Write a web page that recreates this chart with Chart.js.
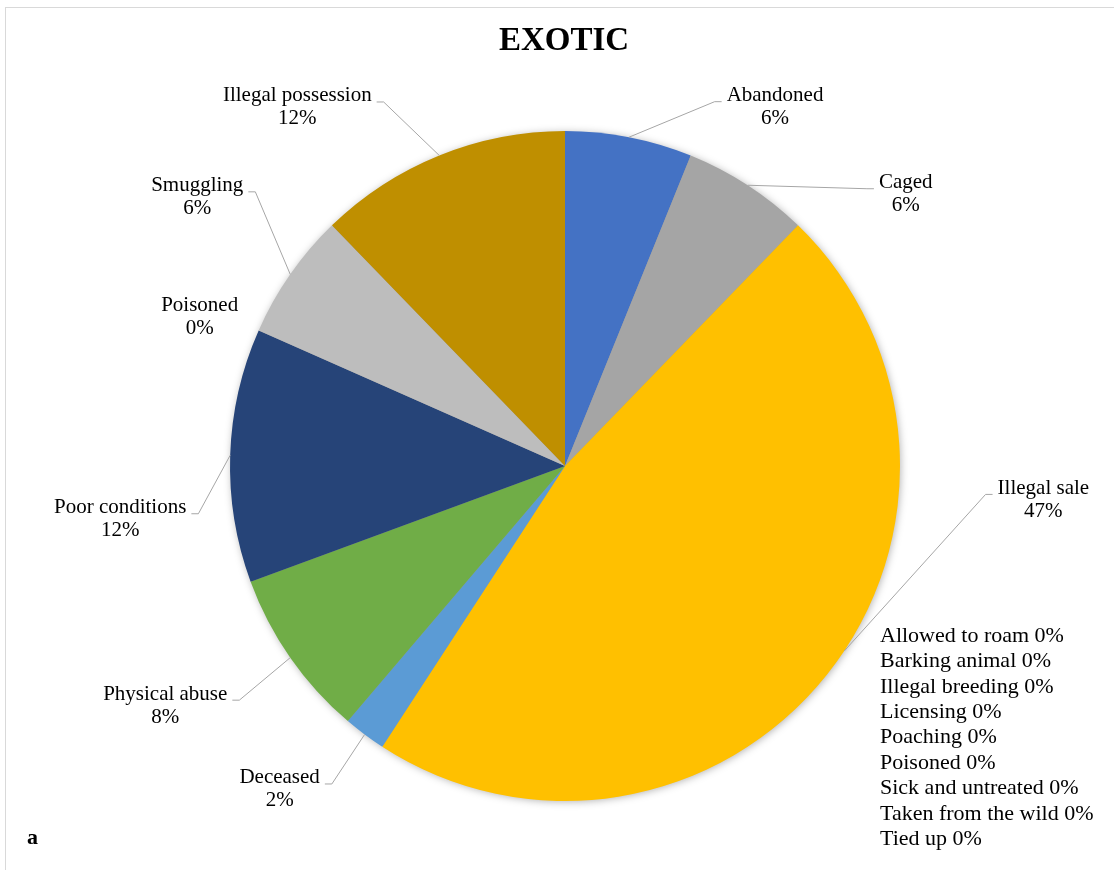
<!DOCTYPE html>
<html>
<head>
<meta charset="utf-8">
<script src="https://cdn.jsdelivr.net/npm/chart.js@4"></script>
<style>
  html, body { margin: 0; padding: 0; background: #fff; overflow: hidden; }
  #wrap { position: relative; width: 1114px; height: 870px; }
  #frame { position: absolute; left: 5px; top: 7px; right: -10px; bottom: -10px; border-left: 1px solid #d9d9d9; border-top: 1px solid #d9d9d9; }
  canvas { position: absolute; left: 0; top: 0; }
</style>
</head>
<body>
<div id="wrap">
  <div id="frame"></div>
  <canvas id="exoticChart" width="1114" height="870"></canvas>
</div>
<script>
// --- Data ---
const sliceLabels = ['Abandoned', 'Caged', 'Illegal sale', 'Deceased', 'Physical abuse', 'Poor conditions', 'Poisoned', 'Smuggling', 'Illegal possession'];
const sliceCounts = [3, 3, 23, 1, 4, 6, 0, 3, 6];
const sliceColors = ['#4472C4', '#A5A5A5', '#FFC000', '#5B9BD5', '#70AD47', '#264478', '#9E480E', '#BDBDBD', '#BF8F00'];

const zeroLabels = ['Allowed to roam', 'Barking animal', 'Illegal breeding', 'Licensing', 'Poaching', 'Poisoned', 'Sick and untreated', 'Taken from the wild', 'Tied up'];
const zeroCounts = [0, 0, 0, 0, 0, 0, 0, 0, 0];

// label placement relative to the leader anchor on the slice edge:
// [dx, dy, draw leader?, anchor position along the arc (0..1)]
const labelOffsets = [
    [146, -30, true, 0.5], [158, 9, true, 0.5], [199, -151, true, 0.47], [-85, 55, true, 0.5], [-125, 48, true, 0.5],
    [-110, 64, true, 0.5], [-59, -13, false, 0.5], [-93, -77, true, 0.5], [-142, -48, true, 0.5]
];

const total = sliceCounts.concat(zeroCounts).reduce((a, b) => a + b, 0);
const pct = v => Math.round(v / total * 100) + '%';

const LABEL_FONT = '21px "Liberation Serif", "Times New Roman", serif';
const LIST_FONT = '22px "Liberation Serif", "Times New Roman", serif';

// soft shadow behind the pie
const pieShadow = {
    id: 'pieShadow',
    beforeDatasetsDraw(chart) {
        const arc = chart.getDatasetMeta(0).data[0];
        if (!arc) return;
        const { x, y, outerRadius } = arc.getProps(['x', 'y', 'outerRadius'], true);
        const ctx = chart.ctx;
        ctx.save();
        ctx.shadowColor = 'rgba(0,0,0,0.35)';
        ctx.shadowBlur = 9;
        ctx.shadowOffsetX = 1;
        ctx.shadowOffsetY = 1;
        ctx.fillStyle = '#999';
        ctx.beginPath();
        ctx.arc(x, y, outerRadius - 1, 0, Math.PI * 2);
        ctx.fill();
        ctx.restore();
    }
};

// data labels with leader lines + list of zero categories
const pieLabels = {
    id: 'pieLabels',
    afterDraw(chart) {
        const ctx = chart.ctx;
        const meta = chart.getDatasetMeta(0);
        ctx.save();
        ctx.font = LABEL_FONT;
        ctx.fillStyle = '#000';
        ctx.textAlign = 'center';
        ctx.textBaseline = 'middle';
        const lh = 23;

        meta.data.forEach((arc, i) => {
            if (i >= sliceLabels.length) return;
            const p = arc.getProps(['x', 'y', 'startAngle', 'endAngle', 'outerRadius'], true);
            const [dx, dy, showLine, frac] = labelOffsets[i];
            const ang = p.startAngle + (p.endAngle - p.startAngle) * frac;
            const ax = p.x + Math.cos(ang) * p.outerRadius;
            const ay = p.y + Math.sin(ang) * p.outerRadius;
            const lx = ax + dx, ly = ay + dy;
            const line1 = sliceLabels[i];
            const y1 = ly - lh / 2;
            ctx.fillText(line1, lx, y1);
            ctx.fillText(pct(sliceCounts[i]), lx, ly + lh / 2);

            if (showLine) {
                const w = ctx.measureText(line1).width;
                const right = lx > ax;
                const endX = right ? lx - w / 2 - 5 : lx + w / 2 + 5;
                const endY = y1 + 6;
                const elbowX = right ? endX - 7 : endX + 7;
                ctx.beginPath();
                ctx.strokeStyle = '#A6A6A6';
                ctx.lineWidth = 1;
                ctx.moveTo(ax, ay);
                ctx.lineTo(elbowX, endY);
                ctx.lineTo(endX, endY);
                ctx.stroke();
            }
        });

        // zero-valued categories stacked at the bottom right
        ctx.font = LIST_FONT;
        ctx.textAlign = 'left';
        zeroLabels.forEach((name, i) => {
            ctx.fillText(name + ' ' + pct(zeroCounts[i]), 880, 636 + i * 25.4);
        });

        // panel letter
        ctx.font = 'bold 22px "Liberation Serif", "Times New Roman", serif';
        ctx.fillText('a', 27, 838);
        ctx.restore();
    }
};

const ctx = document.getElementById('exoticChart');
new Chart(ctx, {
    type: 'pie',
    data: {
        labels: sliceLabels.concat(zeroLabels),
        datasets: [{
            data: sliceCounts.concat(zeroCounts),
            backgroundColor: sliceColors.concat(zeroLabels.map(() => '#cccccc')),
            borderWidth: 0
        }]
    },
    options: {
        responsive: false,
        animation: false,
        devicePixelRatio: 1,
        layout: { padding: { top: 131, bottom: 69, left: 16, right: 0 } },
        plugins: {
            legend: { display: false },
            tooltip: { enabled: false },
            title: { display: false }
        }
    },
    plugins: [pieShadow, pieLabels, {
        id: 'titleText',
        afterDraw(chart) {
            const c = chart.ctx;
            c.save();
            c.font = 'bold 33px "Liberation Serif", "Times New Roman", serif';
            c.fillStyle = '#000';
            c.textAlign = 'center';
            c.textBaseline = 'middle';
            c.fillText('EXOTIC', 564, 41);
            c.restore();
        }
    }]
});
</script>
</body>
</html>
